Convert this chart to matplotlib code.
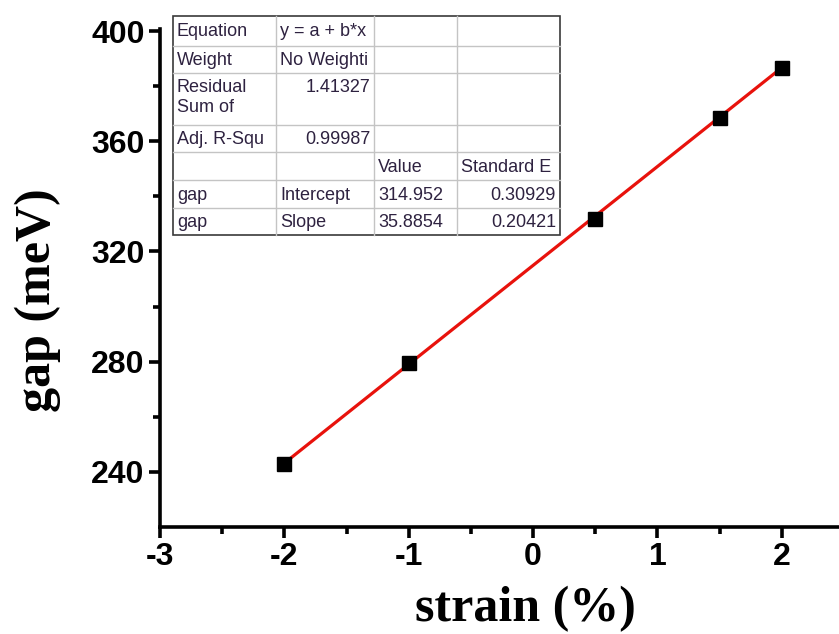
import matplotlib.pyplot as plt
import numpy as np

# data
strain = [-2.0, -1.0, 0.5, 1.5, 2.0]
gap = [242.9, 279.4, 331.8, 368.6, 386.7]

# linear fit reported in the table
intercept = 314.952
slope = 35.8854

table_rows = [
    ["Equation", "y = a + b*x", "", ""],
    ["Weight", "No Weighti", "", ""],
    ["Residual\nSum of", "1.41327", "", ""],
    ["Adj. R-Squ", "0.99987", "", ""],
    ["", "", "Value", "Standard E"],
    ["gap", "Intercept", "314.952", "0.30929"],
    ["gap", "Slope", "35.8854", "0.20421"],
]
# alignment of each cell ('l' left, 'r' right)
table_align = [
    ["l", "l", "l", "l"],
    ["l", "l", "l", "l"],
    ["l", "r", "l", "l"],
    ["l", "r", "l", "l"],
    ["l", "l", "l", "l"],
    ["l", "l", "l", "r"],
    ["l", "l", "l", "r"],
]

plt.rcParams["axes.unicode_minus"] = False

W, H = 839, 634
fig = plt.figure(figsize=(W / 100, H / 100), dpi=100)

# axes placed in pixel terms (right edge runs past the figure, as in the picture)
left, right, bottom, top = 160, 844, 527, 29.25
ax = fig.add_axes([left / W, 1 - bottom / H, (right - left) / W, (bottom - top) / H])

fit_x = np.array([-2.0, 2.0])
ax.plot(fit_x, intercept + slope * fit_x, color="#e8120c", lw=2.3, zorder=2)
ax.plot(strain, gap, ls="none", marker="s", ms=10, color="black", zorder=3)

ax.set_xlim(-3, 2.5)
ax.set_ylim(220, 400.65)
ax.set_xticks([-3, -2, -1, 0, 1, 2])
ax.set_xticks(np.arange(-2.5, 2.6, 1.0), minor=True)
ax.set_yticks([240, 280, 320, 360, 400])
ax.set_yticks([260, 300, 340, 380], minor=True)

for s in ["top", "right"]:
    ax.spines[s].set_visible(False)
for s in ["left", "bottom"]:
    ax.spines[s].set_linewidth(2.6)

ax.tick_params(which="major", direction="out", length=8, width=2.6, pad=3)
ax.tick_params(which="minor", direction="out", length=5, width=2.6)
for lab in ax.get_xticklabels() + ax.get_yticklabels():
    lab.set_fontfamily("Liberation Sans")
    lab.set_fontweight("bold")
    lab.set_fontsize(23)

fig.text(525 / W, 1 - 609 / H, "strain (%)", ha="center", va="center",
         fontsize=36, fontweight="bold", family="Liberation Serif")
fig.text(38 / W, 1 - 300 / H, "gap (meV)", ha="center", va="center", rotation=90,
         fontsize=36, fontweight="bold", family="Liberation Serif")

# the fit table, drawn in pixel coords on an overlay
ov = fig.add_axes([0, 0, 1, 1], zorder=5)
ov.set_xlim(0, W)
ov.set_ylim(H, 0)
ov.axis("off")
ov.patch.set_alpha(0)

col_x = [173, 276, 374, 457, 560]
row_y = [16, 46, 73, 125, 152, 180, 208, 235]
ov.add_patch(plt.Rectangle((col_x[0], row_y[0]), col_x[-1] - col_x[0], row_y[-1] - row_y[0],
                           facecolor="white", edgecolor="none"))
for x in col_x[1:-1]:
    ov.plot([x, x], [row_y[0], row_y[-1]], color="#c4c4c4", lw=1)
for y in row_y[1:-1]:
    ov.plot([col_x[0], col_x[-1]], [y, y], color="#c4c4c4", lw=1)
ov.add_patch(plt.Rectangle((col_x[0], row_y[0]), col_x[-1] - col_x[0], row_y[-1] - row_y[0],
                           facecolor="none", edgecolor="#3a3a3a", lw=1.2))

for i, row in enumerate(table_rows):
    for j, txt in enumerate(row):
        if not txt:
            continue
        if table_align[i][j] == "l":
            tx, ha = col_x[j] + 4, "left"
        else:
            tx, ha = col_x[j + 1] - 4, "right"
        if i == 2:
            ov.text(tx, row_y[i] + 6, txt, ha=ha, va="top", fontsize=13,
                    family="Liberation Sans", color="#2e2240", linespacing=1.2)
        else:
            ov.text(tx, (row_y[i] + row_y[i + 1]) / 2 + 1, txt, ha=ha, va="center",
                    fontsize=13, family="Liberation Sans", color="#2e2240")

fig.savefig("out.png", dpi=100)
